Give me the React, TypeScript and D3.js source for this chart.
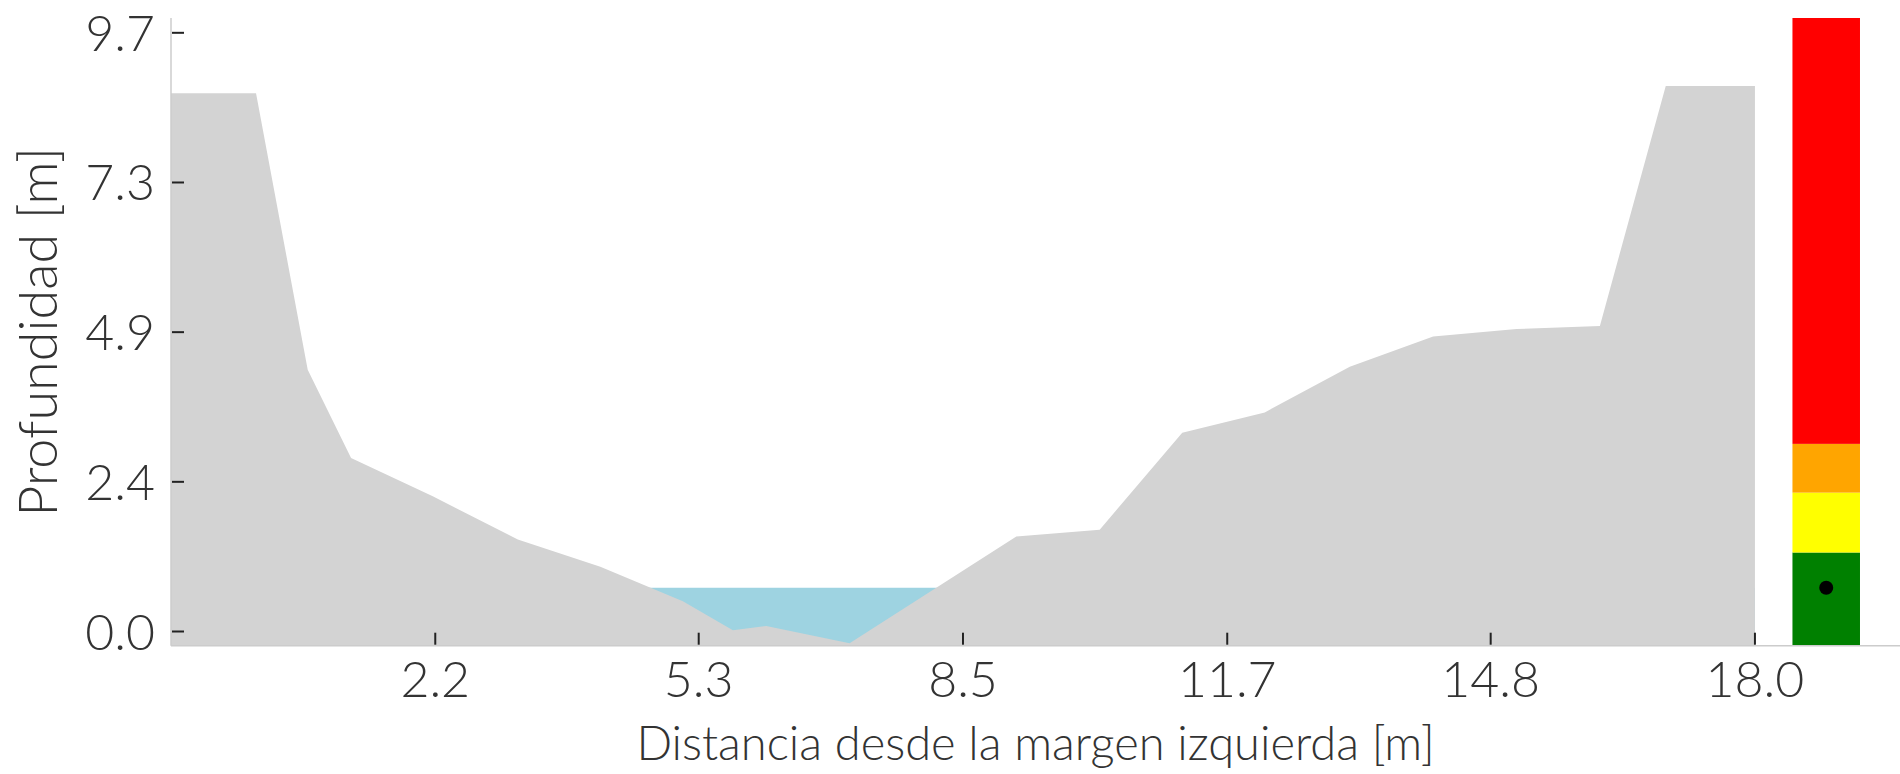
import React from 'react';
import * as d3 from 'd3';

// cross-section survey (distance from left bank, bed elevation)
const distance = [-1, 0.02, 0.64, 1.16, 2.14, 3.16, 4.15, 5.14, 5.74, 6.14, 7.14, 9.14, 10.14, 11.13, 12.12, 13.14, 14.14, 15.14, 16.14, 16.93, 18.0];
const elevation = [8.72, 8.72, 4.24, 2.81, 2.19, 1.49, 1.05, 0.49, 0.02, 0.09, -0.19, 1.54, 1.65, 3.22, 3.55, 4.29, 4.78, 4.9, 4.95, 8.84, 8.84];

const waterLevel = 0.71;

// alert bar: thresholds and colours
const levelBreaks = [-0.23, 1.28, 2.25, 3.04, 9.94];
const levelColors = ['#008000', '#ffff00', '#ffa500', '#ff0000'];

const xTickValues = [2.17, 5.33, 8.5, 11.67, 14.83, 18.0];
const xTickLabels = ['2.2', '5.3', '8.5', '11.7', '14.8', '18.0'];
const yTickValues = [0, 2.425, 4.85, 7.275, 9.7];
const yTickLabels = ['0.0', '2.4', '4.9', '7.3', '9.7'];

const W = 1900;
const H = 774;
const left = 171, right = 1900, top = 18, bottom = 645.7;
const FONT = 'Lato, "Open Sans", sans-serif';

export default function App() {
  const x = d3.scaleLinear().domain([-1, 19.74]).range([left, right]);
  const y = d3.scaleLinear().domain([-0.23, 9.94]).range([bottom, top]);

  const pts = distance.map((d, i) => ({ x: d, y: elevation[i] }));

  const terrain = d3.area<{ x: number; y: number }>()
    .x(d => x(d.x))
    .y0(y(-0.23))
    .y1(d => y(d.y))(pts);

  // water fills up to the level; the bed is drawn on top of it
  const water = d3.area<{ x: number; y: number }>()
    .x(d => x(d.x))
    .y0(y(-0.23))
    .y1(y(waterLevel))(pts);

  const barX = 18.855, barW = 0.81;

  return (
    <svg width={W} height={H} style={{ position: 'absolute', left: 0, top: 0, background: '#fff' }}>
      <path d={water || ''} fill="#9ed3e1" />
      <path d={terrain || ''} fill="#d3d3d3" />

      {levelColors.map((c, i) => (
        <rect key={c} x={x(barX - barW / 2)} width={x(barX + barW / 2) - x(barX - barW / 2)}
          y={y(levelBreaks[i + 1])} height={y(levelBreaks[i]) - y(levelBreaks[i + 1])} fill={c} />
      ))}
      <circle cx={x(barX)} cy={y(waterLevel)} r={7} fill="#000" />

      {/* spines */}
      <line x1={left} x2={left} y1={top} y2={bottom} stroke="#cccccc" strokeWidth={1.5} />
      <line x1={left} x2={right} y1={bottom} y2={bottom} stroke="#cccccc" strokeWidth={1.5} />

      {xTickValues.map((v, i) => (
        <g key={'x' + i} transform={`translate(${x(v)},0)`}>
          <line y1={bottom - 1} y2={bottom - 13} stroke="#222" strokeWidth={2} />
          <text y={697} textAnchor="middle" fontFamily={FONT} fontWeight={300} fontSize={50} fill="#333">{xTickLabels[i]}</text>
        </g>
      ))}
      {yTickValues.map((v, i) => (
        <g key={'y' + i} transform={`translate(0,${y(v)})`}>
          <line x1={left + 1} x2={left + 13} stroke="#222" strokeWidth={2} />
          <text x={155} dy="0.36em" textAnchor="end" fontFamily={FONT} fontWeight={300} fontSize={50} fill="#333">{yTickLabels[i]}</text>
        </g>
      ))}

      <text x={(left + right) / 2} y={760} textAnchor="middle" fontFamily={FONT} fontWeight={300} fontSize={47} fill="#333">
        Distancia desde la margen izquierda [m]
      </text>
      <text transform={`translate(57,${(top + bottom) / 2}) rotate(-90)`} textAnchor="middle" fontFamily={FONT} fontWeight={300} fontSize={54} fill="#333">
        Profundidad [m]
      </text>
    </svg>
  );
}
